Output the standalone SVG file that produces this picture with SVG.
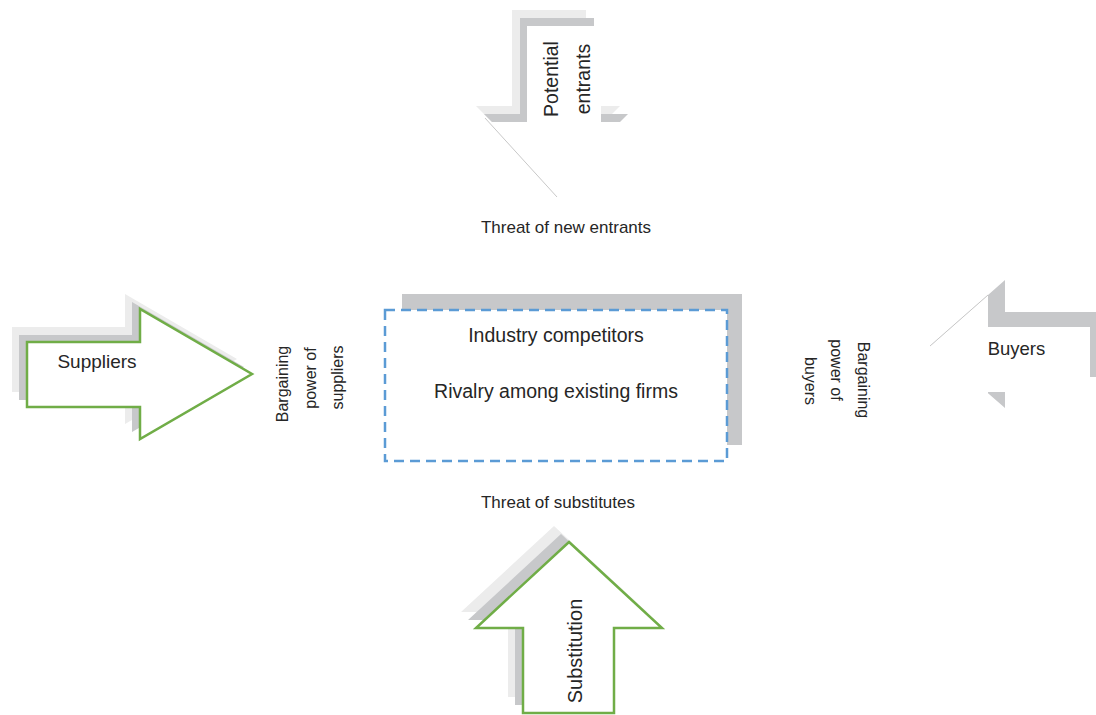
<svg xmlns="http://www.w3.org/2000/svg" width="1096" height="715" viewBox="0 0 1096 715">
  <style>
    text { font-family: "Liberation Sans", Arial, sans-serif; fill: #262626; }
    .mid { text-anchor: middle; }
    .sh1 { fill: #c7c8ca; }
    .sh2 { fill: #ececec; }
    .white { fill: #ffffff; }
    .green { fill: #ffffff; stroke: #70AD47; stroke-width: 2.5; stroke-linejoin: miter; }
    .edge { stroke: #c8c8c8; stroke-width: 1; fill: none; }
    .lbl { font-size: 16px; }
  </style>
  <defs>
    <polygon id="downArrow" points="527,26 601,26 601,122 635,122 563,194 491,122 527,122"/>
    <polygon id="rightArrow" points="27,342 140,342 140,309 252,374 140,439 140,407 27,407"/>
    <polygon id="upArrow" points="569,542 662,628 614,628 614,713 523,713 523,628 476,628"/>
    <polygon id="leftArrow" points="1107,312 1005,312 1005,280 932,344.5 1005,408 1005,377 1107,377"/>
  </defs>

  <rect width="1096" height="715" fill="#ffffff"/>

  <!-- Potential entrants -->
  <g id="potential-entrants">
    <use href="#downArrow" class="sh2" transform="translate(-15,-16)"/>
    <use href="#downArrow" class="sh1" transform="translate(-7,-8)"/>
    <use href="#downArrow" class="white"/>
    <line class="edge" x1="485" y1="118" x2="557" y2="197"/>
    <text class="mid" font-size="19.5" transform="translate(558,79) rotate(-90)">Potential</text>
    <text class="mid" font-size="19.5" transform="translate(590,79) rotate(-90)">entrants</text>
  </g>

  <g id="threat-new-entrants">
    <text class="mid" x="566" y="232.5" font-size="17">Threat of new entrants</text>
  </g>

  <!-- Suppliers -->
  <g id="suppliers">
    <use href="#rightArrow" class="sh2" transform="translate(-15,-15)"/>
    <use href="#rightArrow" class="sh1" transform="translate(-8,-7)"/>
    <use href="#rightArrow" class="green"/>
    <text class="mid" x="97" y="368" font-size="19">Suppliers</text>
  </g>

  <g id="bargaining-suppliers" class="lbl">
    <text class="mid" transform="translate(288,384) rotate(-90)">Bargaining</text>
    <text class="mid" transform="translate(315.5,378) rotate(-90)">power of</text>
    <text class="mid" transform="translate(343,377.5) rotate(-90)">suppliers</text>
  </g>

  <!-- Industry competitors -->
  <g id="industry-competitors">
    <rect x="402" y="294" width="340" height="151" class="sh1"/>
    <rect x="385" y="310" width="342" height="151" fill="#ffffff" stroke="#5B9BD5" stroke-width="2.5" stroke-dasharray="10 6"/>
    <text class="mid" x="556" y="342" font-size="19.5">Industry competitors</text>
    <text class="mid" x="556" y="398" font-size="19.5">Rivalry among existing firms</text>
  </g>

  <g id="bargaining-buyers" class="lbl">
    <text class="mid" transform="translate(858,380) rotate(90)">Bargaining</text>
    <text class="mid" transform="translate(831,370) rotate(90)">power of</text>
    <text class="mid" transform="translate(805,381) rotate(90)">buyers</text>
  </g>

  <!-- Buyers -->
  <g id="buyers">
    <use href="#leftArrow" class="sh1"/>
    <use href="#leftArrow" class="white" transform="translate(-17,15)"/>
    <line class="edge" x1="930" y1="346" x2="988" y2="295"/>
    <text class="mid" x="1016.5" y="355" font-size="18.5">Buyers</text>
  </g>

  <g id="threat-substitutes">
    <text class="mid" x="558" y="507.5" font-size="17">Threat of substitutes</text>
  </g>

  <!-- Substitution -->
  <g id="substitution">
    <use href="#upArrow" class="sh2" transform="translate(-15,-16)"/>
    <use href="#upArrow" class="sh1" transform="translate(-8,-8)"/>
    <use href="#upArrow" class="green"/>
    <text class="mid" font-size="20" transform="translate(582,651) rotate(-90)">Substitution</text>
  </g>

  <g id="connectors"></g>
</svg>
